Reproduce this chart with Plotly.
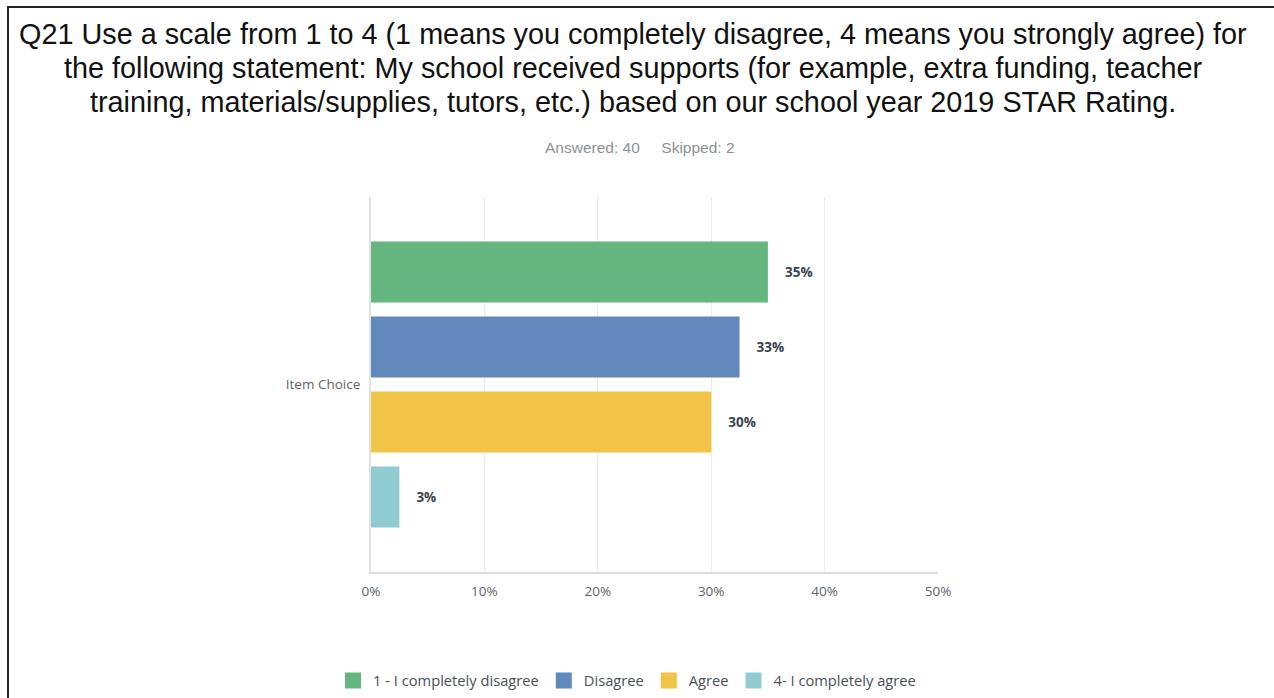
import plotly.graph_objects as go

title_lines = [
    "Q21 Use a scale from 1 to 4 (1 means you completely disagree, 4 means you strongly agree) for",
    "the following statement: My school received supports (for example, extra funding, teacher",
    "training, materials/supplies, tutors, etc.) based on our school year 2019 STAR Rating.",
]
subtitle = "Answered: 40&nbsp;&nbsp;&nbsp;&nbsp;&nbsp;Skipped: 2"
category = ["Item Choice"]
series_names = ["1 - I completely disagree", "Disagree", "Agree", "4- I completely agree"]
series_values = [35.0, 32.5, 30.0, 2.5]
value_labels = ["35%", "33%", "30%", "3%"]
series_colors = ["#65b57f", "#6388bb", "#f0c447", "#91cbd2"]
x_ticks = [0, 10, 20, 30, 40, 50]
x_tick_labels = ["0%", "10%", "20%", "30%", "40%", "50%"]

W, H = 1274, 698
L, R, T, B = 371, 336, 197, 126
pw, ph = W - L - R, H - T - B
UI_FONT = "Open Sans, Lato, sans-serif"


def px_x(p):
    return (p - L) / pw


def px_y(p):
    return (H - B - p) / ph


fig = go.Figure()
for name, val, lab, col in zip(series_names, series_values, value_labels, series_colors):
    fig.add_trace(go.Bar(
        name=name, y=category, x=[val], orientation="h",
        marker=dict(color=col, line=dict(width=0)),
        text=["    <b>" + lab + "</b>"], textposition="outside", cliponaxis=False,
        textfont=dict(family=UI_FONT, size=13.5, color="#3b4550"),
        hoverinfo="skip", showlegend=False,
    ))
# legend entries (square swatches)
for name, col in zip(series_names, series_colors):
    fig.add_trace(go.Scatter(
        name=name, x=[None], y=[None], mode="markers",
        marker=dict(symbol="square", size=16, color=col),
        showlegend=True, hoverinfo="skip",
    ))

fig.update_layout(
    width=W, height=H,
    margin=dict(l=L, r=R, t=T, b=B, pad=0, autoexpand=False),
    paper_bgcolor="white", plot_bgcolor="white",
    barmode="group", bargap=0.2, bargroupgap=0.187,
    showlegend=True,
    legend=dict(orientation="h", x=px_x(333), xanchor="left", y=px_y(681), yanchor="middle",
                font=dict(family=UI_FONT, size=14.7, color="#4a5058"),
                traceorder="normal", itemwidth=30, itemsizing="trace"),
    xaxis=dict(range=[0, 50], tickvals=x_ticks, ticktext=x_tick_labels,
               showgrid=True, gridcolor="#ececec", gridwidth=1,
               showline=True, linecolor="#dcdcdc", linewidth=2,
               zeroline=False, ticks="", ticklabelstandoff=6,
               tickfont=dict(family=UI_FONT, size=13.5, color="#5e646a")),
    yaxis=dict(autorange="reversed", showline=True, linecolor="#e2e2e2", linewidth=2,
               showgrid=False, ticks="", ticklabelstandoff=6,
               tickfont=dict(family=UI_FONT, size=13.5, color="#5e646a")),
    font=dict(family=UI_FONT),
)

title_y = [34, 68, 102]
for line, ty in zip(title_lines, title_y):
    fig.add_annotation(text=line, xref="paper", yref="paper", x=px_x(633), y=px_y(ty),
                       xanchor="center", yanchor="middle", showarrow=False,
                       font=dict(family="Liberation Sans, Arial, sans-serif", size=28.8, color="#111111"))

fig.add_annotation(text=subtitle, xref="paper", yref="paper", x=px_x(640), y=px_y(147),
                   xanchor="center", yanchor="middle", showarrow=False,
                   font=dict(family="Liberation Sans, sans-serif", size=15.5, color="#8c9196"))

# frame lines (left and top borders)
fig.add_shape(type="line", xref="paper", yref="paper", x0=px_x(8), x1=px_x(8), y0=px_y(7), y1=px_y(H + 5),
              line=dict(color="#222222", width=2), layer="above")
fig.add_shape(type="line", xref="paper", yref="paper", x0=px_x(7), x1=px_x(W + 5), y0=px_y(7), y1=px_y(7),
              line=dict(color="#222222", width=2), layer="above")

fig.write_html("out.html", config={"displayModeBar": False},
               post_script="document.body.style.margin='0px';document.body.style.overflow='hidden';")
